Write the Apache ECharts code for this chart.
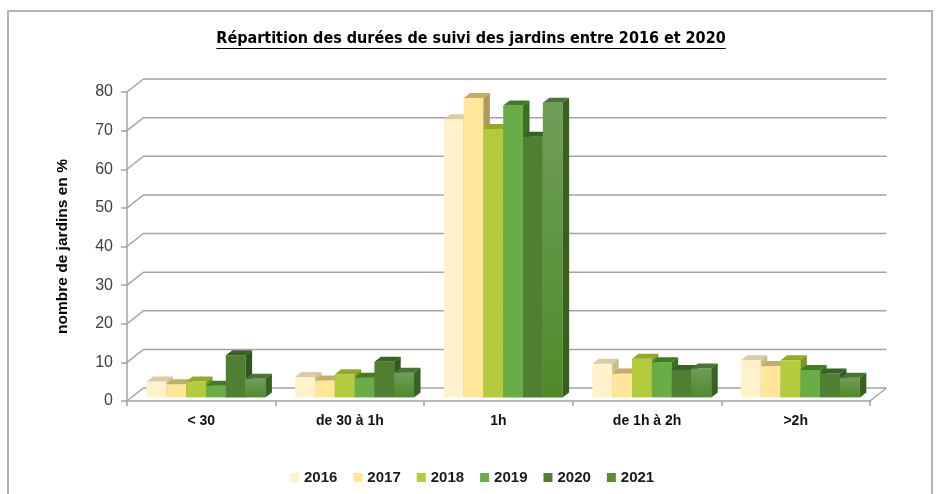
<!DOCTYPE html>
<html lang="fr">
<head>
  <meta charset="UTF-8">
  <title>Répartition des durées de suivi des jardins</title>
  <style>
    html, body { margin: 0; padding: 0; background: #fff; }
    #chart { width: 936px; height: 494px; }
  </style>
  <script src="https://cdn.jsdelivr.net/npm/echarts@6/dist/echarts.min.js"></script>
</head>
<body>
  <div id="chart"></div>
  <script>
    // données (en %)
    var categories = ['< 30', 'de 30 à 1h', '1h', 'de 1h à 2h', '>2h'];
    var years = ['2016', '2017', '2018', '2019', '2020', '2021'];
    var v2016 = [4.1, 5.3, 72.0, 8.7, 9.6];
    var v2017 = [3.4, 4.4, 77.5, 6.2, 8.1];
    var v2018 = [4.1, 6.0, 69.5, 10.0, 9.6];
    var v2019 = [3.0, 5.1, 75.6, 9.1, 7.1];
    var v2020 = [10.9, 9.2, 67.5, 7.1, 6.2];
    var v2021 = [4.8, 6.4, 76.3, 7.5, 5.1];
    var yTicks = [0, 10, 20, 30, 40, 50, 60, 70, 80];
    var titleText = 'Répartition des durées de suivi des jardins entre 2016 et 2020';

    var seriesValues = [v2016, v2017, v2018, v2019, v2020, v2021];

    // couleurs face avant / dessus / côté
    var frontColors = ['#FFF2CC', '#FFE699', '#B5CB3E', '#6AAD47', '#4F7F31', '#56902F'];
    var topColors = ['#D8CDA3', '#C2AD6A', '#94A829', '#3F7C28', '#3A6124', '#4A7436'];
    var sideColors = ['#C9BC90', '#B09A5A', '#7F9420', '#3A7025', '#32561F', '#38601F'];

    var WALL_DX = 16.5, WALL_DY = 13;   // profondeur du fond
    var BAR_SHIFT_X = 4.7, BAR_SHIFT_Y = 3.6; // position des barres dans la profondeur
    var BAR_DX = 6.5, BAR_DY = 5;       // épaisseur des barres
    var GRID_COLOR = '#a3a3a3';

    var chart = echarts.init(document.getElementById('chart'));

    function wallRender(params, api) {
      var cs = params.coordSys;
      var v = api.value(1);
      var y = api.coord([0, v])[1];
      var x0 = cs.x, x1 = cs.x + cs.width;
      var children = [{
        type: 'polyline',
        shape: { points: [[x0, y], [x0 + WALL_DX, y - WALL_DY], [x1 + WALL_DX, y - WALL_DY]] },
        style: { stroke: GRID_COLOR, lineWidth: 1.5, fill: null }
      }];
      if (v === 0) {
        children.push({
          type: 'line',
          shape: { x1: x1, y1: y, x2: x1 + WALL_DX, y2: y - WALL_DY },
          style: { stroke: GRID_COLOR, lineWidth: 1.5 }
        });
      }
      return { type: 'group', children: children };
    }

    function makeBarRender(s) {
      return function (params, api) {
        var cat = api.value(0);
        var val = api.value(1);
        var base = api.coord([cat, 0]);
        var top = api.coord([cat, val]);
        var band = api.size([1, 0])[0];
        var w = band * 0.8 / 6;
        var x = base[0] - band * 0.4 + s * w + BAR_SHIFT_X;
        var yb = base[1] - BAR_SHIFT_Y;
        var yt = top[1] - BAR_SHIFT_Y;
        var frontFill = frontColors[s];
        if (s === 5) {
          frontFill = new echarts.graphic.LinearGradient(0, 0, 0, 1, [
            { offset: 0, color: '#6E9E58' },
            { offset: 1, color: '#4E8A2A' }
          ]);
        }
        return {
          type: 'group',
          children: [
            {
              type: 'rect',
              shape: { x: x, y: yt, width: w, height: yb - yt },
              style: { fill: frontFill }
            },
            {
              type: 'polygon',
              shape: { points: [[x, yt], [x + BAR_DX, yt - BAR_DY], [x + w + BAR_DX, yt - BAR_DY], [x + w, yt]] },
              style: { fill: topColors[s] }
            },
            {
              type: 'polygon',
              shape: { points: [[x + w, yt], [x + w + BAR_DX, yt - BAR_DY], [x + w + BAR_DX, yb - BAR_DY], [x + w, yb]] },
              style: { fill: sideColors[s] }
            }
          ]
        };
      };
    }

    var series = [{
      name: 'fond',
      type: 'custom',
      renderItem: wallRender,
      data: yTicks.map(function (v) { return [0, v]; }),
      silent: true,
      z: 1
    }];
    years.forEach(function (y, s) {
      series.push({
        name: y,
        type: 'custom',
        renderItem: makeBarRender(s),
        itemStyle: { color: frontColors[s] },
        data: seriesValues[s].map(function (v, i) { return [i, v]; }),
        z: 2
      });
    });

    // largeur du titre pour le soulignement
    var ctx = document.createElement('canvas').getContext('2d');
    var titleFont = 'bold 16px "DejaVu Sans Condensed", sans-serif';
    ctx.font = titleFont;
    var titleW = ctx.measureText(titleText).width;
    var titleX = 471;

    chart.setOption({
      animation: false,
      graphic: [
        {
          type: 'rect',
          shape: { x: 8, y: 11, width: 924, height: 500 },
          style: { fill: null, stroke: '#b4b4b4', lineWidth: 2 },
          silent: true
        },
        {
          type: 'text',
          x: titleX,
          y: 39,
          style: {
            text: titleText,
            font: titleFont,
            fill: '#000',
            textAlign: 'center',
            textVerticalAlign: 'middle'
          }
        },
        {
          type: 'line',
          shape: { x1: titleX - titleW / 2, y1: 48.5, x2: titleX + titleW / 2, y2: 48.5 },
          style: { stroke: '#000', lineWidth: 1.2 }
        }
      ],
      legend: {
        data: years,
        left: 285,
        top: 465,
        icon: 'rect',
        itemWidth: 9,
        itemHeight: 9,
        itemGap: 16,
        textStyle: {
          fontFamily: 'Liberation Sans',
          fontWeight: 'bold',
          fontSize: 15,
          color: '#1a1a1a'
        }
      },
      grid: {
        left: 127,
        right: 66,
        top: 92,
        bottom: 93
      },
      xAxis: {
        type: 'category',
        data: categories,
        axisLine: { lineStyle: { color: GRID_COLOR, width: 1.5 } },
        axisTick: { show: true, length: 5, lineStyle: { color: GRID_COLOR, width: 1.5 } },
        axisLabel: {
          margin: 13,
          fontFamily: 'Liberation Sans',
          fontWeight: 'bold',
          fontSize: 14,
          color: '#111'
        },
        splitLine: { show: false }
      },
      yAxis: {
        type: 'value',
        min: 0,
        max: 80,
        interval: 10,
        name: 'nombre de jardins en %',
        nameLocation: 'middle',
        nameRotate: 90,
        nameGap: 56,
        nameTextStyle: {
          fontFamily: 'Liberation Sans',
          fontWeight: 'bold',
          fontSize: 15.5,
          color: '#000'
        },
        axisLine: { show: true, lineStyle: { color: GRID_COLOR, width: 1.5 } },
        axisTick: { show: true, length: 6, lineStyle: { color: GRID_COLOR, width: 1.5 } },
        axisLabel: {
          margin: 14,
          fontFamily: 'Liberation Sans',
          fontSize: 16,
          color: '#404040'
        },
        splitLine: { show: false }
      },
      series: series
    });
  </script>
</body>
</html>
